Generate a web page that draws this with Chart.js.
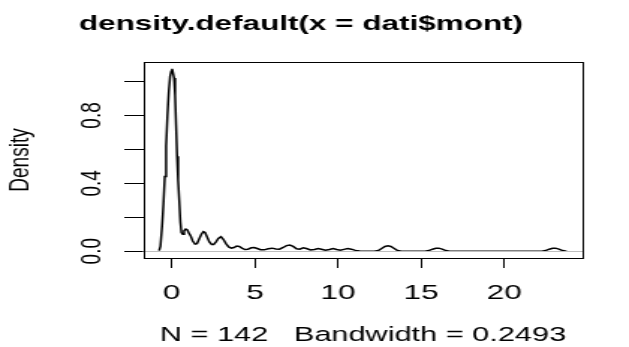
<!DOCTYPE html>
<html><head><meta charset="utf-8">
<script src="https://cdn.jsdelivr.net/npm/chart.js@4/dist/chart.umd.min.js"></script>
<style>
html,body{margin:0;padding:0;background:#fff;overflow:hidden}
</style></head>
<body>
<canvas id="c" width="420" height="347" style="display:block;width:629px;height:347px;background:#fff"></canvas>
<script>
// ---- data ----
const titleText = 'density.default(x = dati$mont)';
const xAxisLabel = 'N = 142   Bandwidth = 0.2493';
const yAxisLabel = 'Density';
const xTicks = [0, 5, 10, 15, 20];
const yTickLabels = ['0.0', '0.4', '0.8'];
const xRange = [-1.73, 24.73];
const yRange = [-0.04, 1.115];

const xValues = [
  -0.76, -0.68, -0.58, -0.50, -0.42, -0.34, -0.26, -0.18, -0.10, -0.03,
   0.02,  0.08,  0.14,  0.20,  0.26,  0.32,  0.38,  0.45,  0.52,  0.58,
   0.66,  0.74,  0.84,  0.94,  1.04,  1.14,  1.26,  1.40,  1.52,  1.64,
   1.78,  1.90,  2.00,  2.12,  2.26,  2.40,  2.52,  2.66,  2.80,  2.96,
   3.10,  3.26,  3.42,  3.58,  3.74,  3.90,  4.06,  4.22,  4.40,  4.58,
   4.78,  4.96,  5.14,  5.34,  5.56,  5.80,  6.04,  6.26,  6.48,  6.70,
   6.90,  7.10,  7.30,  7.50,  7.70,  7.90,  8.10,  8.34,  8.58,  8.80,
   9.00,  9.24,  9.48,  9.70,  9.92, 10.14, 10.36, 10.58, 10.80, 11.04,
  11.30, 11.60, 12.20, 12.42, 12.62, 12.82, 13.00, 13.18, 13.38, 13.58,
  13.80, 15.24, 15.46, 15.68, 15.88, 16.06, 16.26, 16.48, 16.70, 22.26,
  22.48, 22.70, 22.90, 23.08, 23.28, 23.50, 23.74
];
const densityValues = [
  0.004, 0.030, 0.150, 0.280, 0.440, 0.620, 0.800, 0.940, 1.030, 1.060,
  1.075, 1.050, 1.020, 0.920, 0.740, 0.560, 0.420, 0.300, 0.170, 0.110,
  0.100, 0.120, 0.130, 0.125, 0.105, 0.090, 0.060, 0.042, 0.045, 0.070,
  0.100, 0.115, 0.110, 0.085, 0.055, 0.040, 0.040, 0.055, 0.075, 0.085,
  0.070, 0.045, 0.025, 0.018, 0.022, 0.030, 0.028, 0.018, 0.010, 0.012,
  0.020, 0.022, 0.016, 0.009, 0.008, 0.014, 0.018, 0.013, 0.012, 0.022,
  0.033, 0.036, 0.028, 0.014, 0.012, 0.020, 0.016, 0.007, 0.010, 0.016,
  0.012, 0.006, 0.010, 0.016, 0.010, 0.006, 0.011, 0.016, 0.012, 0.005,
  0.002, 0.000, 0.000, 0.004, 0.016, 0.028, 0.032, 0.028, 0.016, 0.004,
  0.000, 0.000, 0.004, 0.012, 0.017, 0.018, 0.012, 0.004, 0.000, 0.000,
  0.004, 0.012, 0.017, 0.018, 0.012, 0.004, 0.000
];

const points = xValues.map((x, i) => ({ x: x, y: densityValues[i] }));
const FONT = 'Liberation Sans, Arial, Helvetica, sans-serif';

const zeroLinePlugin = {
  id: 'zeroLine',
  afterDatasetsDraw(chart) {
    const { ctx, chartArea, scales } = chart;
    const y = Math.round(scales.y.getPixelForValue(0)) + 0.5;
    ctx.save();
    ctx.strokeStyle = '#bebebe';
    ctx.lineWidth = 1;
    ctx.beginPath();
    ctx.moveTo(chartArea.left, y);
    ctx.lineTo(chartArea.right, y);
    ctx.stroke();
    ctx.restore();
  }
};
const boxPlugin = {
  id: 'box',
  afterDraw(chart) {
    const { ctx, chartArea: a } = chart;
    ctx.save();
    ctx.strokeStyle = '#000';
    ctx.lineWidth = 1;
    ctx.strokeRect(Math.round(a.left) + 0.5, Math.round(a.top) + 0.5,
      Math.round(a.right) - Math.round(a.left), Math.round(a.bottom) - Math.round(a.top));
    ctx.restore();
  }
};

new Chart(document.getElementById('c'), {
  type: 'line',
  data: {
    datasets: [{
      data: points,
      borderColor: '#000',
      borderWidth: 1.5,
      pointRadius: 0,
      tension: 0,
      fill: false
    }]
  },
  options: {
    responsive: false,
    animation: false,
    events: [],
    layout: { padding: { left: 0, right: 18, top: 0, bottom: 0 } },
    plugins: {
      legend: { display: false },
      tooltip: { enabled: false },
      title: {
        display: true,
        text: titleText,
        color: '#000',
        font: { family: FONT, size: 21, weight: 'bold' },
        padding: { top: 12, bottom: 24.8 }
      }
    },
    scales: {
      x: {
        type: 'linear',
        position: 'bottom',
        min: xRange[0],
        max: xRange[1],
        grid: { drawOnChartArea: false, drawTicks: true, tickLength: 10, color: '#000', lineWidth: 1 },
        border: { display: false },
        ticks: {
          stepSize: 5,
          includeBounds: false,
          autoSkip: false,
          maxRotation: 0,
          color: '#000',
          padding: 12.5,
          font: { family: FONT, size: 21 },
          callback: v => xTicks.includes(v) ? String(v) : ''
        },
        title: {
          display: true,
          text: xAxisLabel,
          color: '#000',
          font: { family: FONT, size: 20.5 },
          padding: { top: 0, bottom: -1 }
        },
        afterFit: s => { s.height = 89; }
      },
      y: {
        type: 'linear',
        position: 'left',
        min: yRange[0],
        max: yRange[1],
        grid: { drawOnChartArea: false, drawTicks: true, tickLength: 12.5, color: '#000', lineWidth: 1 },
        border: { display: false },
        ticks: {
          stepSize: 0.2,
          includeBounds: false,
          autoSkip: false,
          minRotation: 90,
          maxRotation: 90,
          crossAlign: 'center',
          color: '#000',
          padding: 8,
          font: { family: FONT, size: 19 },
          callback: v => { const s = Number(v).toFixed(1); return yTickLabels.includes(s) ? s : ''; }
        },
        title: {
          display: true,
          text: yAxisLabel,
          color: '#000',
          font: { family: FONT, size: 19 },
          padding: { top: 2.3, bottom: 0 }
        },
        afterFit: s => { s.width = 95.5; }
      },
      y2: {
        type: 'linear',
        position: 'right',
        display: true,
        grid: { display: false },
        border: { display: false },
        ticks: { display: false },
        afterFit: s => { s.width = 12.7; }
      }
    }
  },
  plugins: [zeroLinePlugin, boxPlugin]
});
</script>
</body></html>
